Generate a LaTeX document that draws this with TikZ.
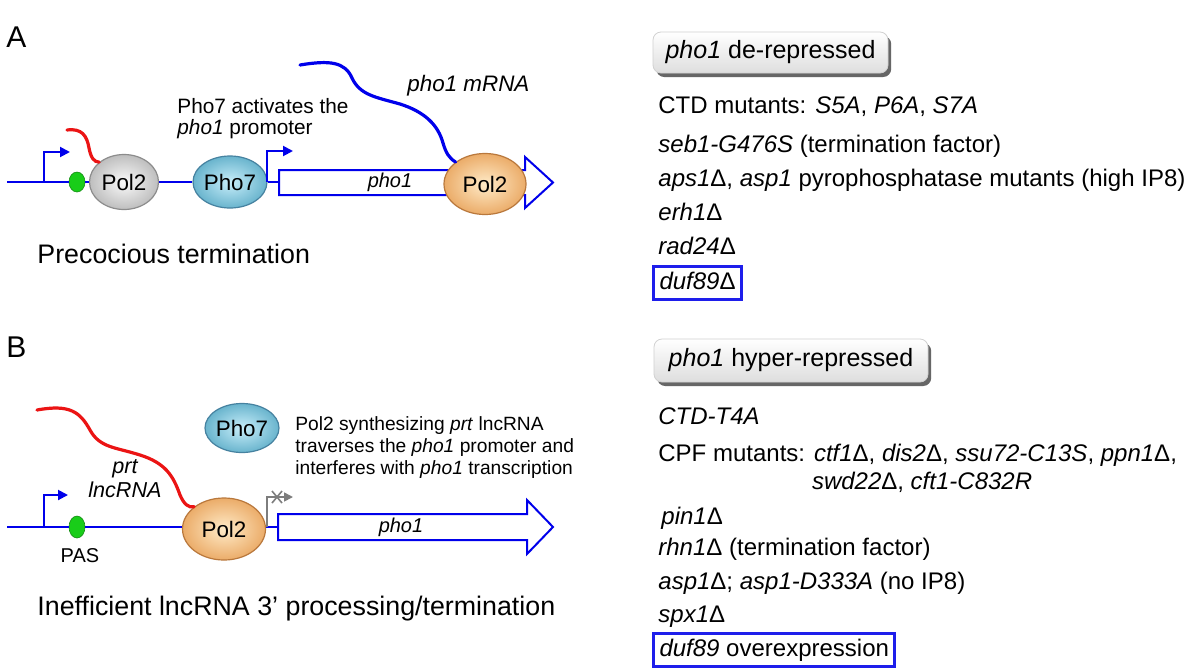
\documentclass[tikz,border=0pt]{standalone}
\usepackage{fontspec}
\setmainfont{Liberation Sans}
\usetikzlibrary{arrows.meta,shapes.geometric,shadows}
\definecolor{dnablue}{RGB}{0,0,235}
\definecolor{rnared}{RGB}{235,20,20}
\definecolor{pasgreen}{RGB}{25,205,25}
\definecolor{pasedge}{RGB}{20,140,20}
\definecolor{boxblue}{RGB}{30,30,235}
\definecolor{grayin}{RGB}{250,250,250}
\definecolor{grayout}{RGB}{190,190,190}
\definecolor{grayedge}{RGB}{140,140,140}
\definecolor{phoin}{RGB}{200,238,250}
\definecolor{phoout}{RGB}{105,180,205}
\definecolor{phoedge}{RGB}{70,130,160}
\definecolor{orin}{RGB}{255,235,200}
\definecolor{orout}{RGB}{235,172,105}
\definecolor{oredge}{RGB}{185,120,60}
\definecolor{promgray}{RGB}{125,125,125}
\newcommand{\mydelta}{\textup{Δ}}
\newcommand{\setfs}[1]{\fontsize{#1}{#1}\selectfont}
\begin{document}
\begin{tikzpicture}[x=0.5pt,y=-0.5pt,
  dna/.style={draw=dnablue, line width=1pt},
  tipd/.style={-{Triangle[length=5pt,width=5pt]}},
  rna/.style={line width=1.6pt, line cap=round},
  prot/.style={ellipse, inner sep=0pt, line width=0.6pt, font=\setfs{11.2}},
  polgray/.style={prot, draw=grayedge, inner color=grayin, outer color=grayout},
  pho/.style={prot, draw=phoedge, inner color=phoin, outer color=phoout},
  polor/.style={prot, draw=oredge, inner color=orin, outer color=orout},
  pas/.style={ellipse, inner sep=0pt, fill=pasgreen, draw=pasedge, line width=0.3pt, minimum width=8pt},
  gene/.style={draw=dnablue, line width=1pt, fill=white, line join=miter},
  txt/.style={anchor=base west, inner sep=0pt},
  ctr/.style={anchor=base, inner sep=0pt},
  lst/.style={txt, font=\setfs{12}},
  lstbox/.style={lst, draw=boxblue, line width=1.5pt, inner xsep=3pt, inner ysep=2.5pt, text height=9pt, text depth=2.5pt},
  hdr/.style={rounded corners=4pt, draw=black!18, top color=white, bottom color=black!13, inner sep=0pt,
    drop shadow={shadow xshift=1.6pt, shadow yshift=-2pt, opacity=0.8, fill=black!75},
    font=\setfs{12.5}}
]
\fill[white] (0,0) rectangle (1189,670);
\useasboundingbox (0,0) rectangle (1189,670);

% ---------------- Panel A ----------------
\node[txt, font=\setfs{15}] (labA) at (6,47) {A};
\coordinate (dA0) at (7,182);
\coordinate (geneA) at (279,182);
\coordinate (prA1) at (44,182);
\coordinate (prA1t) at (70,152);
\coordinate (prA2) at (267,182);
\coordinate (prA2t) at (293,151);

\draw[gene] (279,170) -- (525,170) -- (525,157) -- (553,182.5) -- (525,208) -- (525,195) -- (279,195) -- cycle;
\node[ctr, font=\setfs{10}\itshape] (phoA) at (390,187) {pho1};

\node[pas, minimum height=10pt] (pasA) at (77,182) {};
\node[polgray, minimum width=34.5pt, minimum height=27.5pt] (polA) at (124,182) {Pol2};
\node[pho, minimum width=35pt, minimum height=26pt] (phoSevA) at (230,182) {Pho7};
\node[polor, minimum width=41pt, minimum height=30.5pt] (polA2) at (485,184) {Pol2};

\draw[dna] (dA0) -- (pasA);
\draw[dna] (pasA) -- (polA);
\draw[dna] (polA) -- (phoSevA);
\draw[dna] (phoSevA) -- (geneA);
\draw[dna, tipd] (prA1) |- (prA1t);
\draw[dna, tipd] (prA2) |- (prA2t);

\coordinate (rA0) at (67,130);
\draw[rna, draw=rnared] (rA0) .. controls (82,128) and (87,136) .. (89,148) .. controls (91,158) and (94,162) .. (polA.north west);
\coordinate (mA0) at (300,65);
\draw[rna, draw=dnablue] (mA0) .. controls (330,60) and (345,62) .. (352,78) .. controls (360,95) and (375,97) .. (400,104) .. controls (425,112) and (438,125) .. (443,143) .. controls (446,153) and (449,158) .. (polA2.north west);

\node[txt, font=\setfs{10.4}] (actA1) at (177,113) {Pho7 activates the};
\node[txt, font=\setfs{10.4}] (actA2) at (177,134) {\textit{pho1} promoter};
\node[txt, font=\setfs{11.2}\itshape] (mrnaA) at (407,91) {pho1 mRNA};
\node[txt, font=\setfs{13.4}] (capA) at (37,263) {Precocious termination};

% ---------------- Panel B ----------------
\node[txt, font=\setfs{15}] (labB) at (6,357) {B};
\coordinate (dB0) at (7,527);
\coordinate (geneB) at (278,527);
\coordinate (prB1) at (44,527);
\coordinate (prB1t) at (68,495);
\coordinate (prB2) at (267,527);
\coordinate (prB2t) at (293,497);

\draw[gene] (278,514) -- (527,514) -- (527,500) -- (553,527) -- (527,554) -- (527,540) -- (278,540) -- cycle;
\node[ctr, font=\setfs{10}\itshape] (phoB) at (401,532) {pho1};

\node[pas, minimum height=11pt] (pasB) at (77,527) {};
\node[polor, minimum width=41.5pt, minimum height=31pt] (polB) at (224,529) {Pol2};
\node[pho, minimum width=35pt, minimum height=24.5pt] (phoSevB) at (242,428) {Pho7};

\draw[dna] (dB0) -- (pasB);
\draw[dna] (pasB) -- (polB.west |- pasB);
\draw[dna] (polB.east |- geneB) -- (geneB);
\draw[dna, tipd] (prB1) |- (prB1t);
\draw[draw=promgray, line width=0.8pt, -{Triangle[length=4.5pt,width=4.5pt]}] (prB2) |- (prB2t);
\draw[draw=promgray, line width=0.8pt] (272,491) -- (282,503) (272,503) -- (282,491);

\coordinate (rB0) at (37,410);
\draw[rna, draw=rnared] (rB0) .. controls (70,404) and (80,412) .. (90,430) .. controls (100,448) and (115,447) .. (140,455) .. controls (165,463) and (173,475) .. (180,495) .. controls (184,504) and (188,508) .. (polB.north west);

\node[ctr, font=\setfs{10.8}\itshape] (prt1) at (125,473) {prt};
\node[ctr, font=\setfs{10.8}\itshape] (prt2) at (125,497) {lncRNA};
\node[ctr, font=\setfs{10}] (pasLab) at (80,562) {PAS};

\node[txt, font=\setfs{9.6}] (synB1) at (295,430) {Pol2 synthesizing \textit{prt} lncRNA};
\node[txt, font=\setfs{9.6}] (synB2) at (295,452) {traverses the \textit{pho1} promoter and};
\node[txt, font=\setfs{9.6}] (synB3) at (295,474) {interferes with \textit{pho1} transcription};
\node[txt, font=\setfs{13.4}] (capB) at (37,615) {Inefficient lncRNA 3’ processing/termination};

% ---------------- Right column ----------------
\node[hdr, minimum width=117.5pt, minimum height=20.5pt] (hdr1) at (770.5,52.5) {\textit{pho1} de-repressed};
\node[lst] (l1) at (658,113) {CTD mutants: \textit{S5A}, \textit{P6A}, \textit{S7A}};
\node[lst] (l2) at (658,152) {\textit{seb1-G476S} (termination factor)};
\node[lst] (l3) at (658,186) {\textit{aps1}\mydelta, \textit{asp1} pyrophosphatase mutants (high IP8)};
\node[lst] (l4) at (658,220) {\textit{erh1}\mydelta};
\node[lst] (l5) at (658,254) {\textit{rad24}\mydelta};
\node[lstbox] (l6) at (652,289) {\textit{duf89}\mydelta};

\node[hdr, minimum width=137pt, minimum height=21.5pt] (hdr2) at (791,360.5) {\textit{pho1} hyper-repressed};
\node[lst] (m1) at (658,424) {\textit{CTD-T4A}};
\node[lst] (m2) at (658,461) {CPF mutants: \textit{ctf1}\mydelta, \textit{dis2}\mydelta, \textit{ssu72-C13S}, \textit{ppn1}\mydelta,};
\node[lst] (m3) at (656,489) {\hphantom{CPF mutants: }\textit{swd22}\mydelta, \textit{cft1-C832R}};
\node[lst] (m4) at (661,524) {\textit{pin1}\mydelta};
\node[lst] (m5) at (658,555) {\textit{rhn1}\mydelta{} (termination factor)};
\node[lst] (m6) at (658,589) {\textit{asp1}\mydelta; \textit{asp1-D333A} (no IP8)};
\node[lst] (m7) at (658,622) {\textit{spx1}\mydelta};
\node[lstbox] (m8) at (652,656) {\textit{duf89} overexpression};
\end{tikzpicture}
\end{document}
